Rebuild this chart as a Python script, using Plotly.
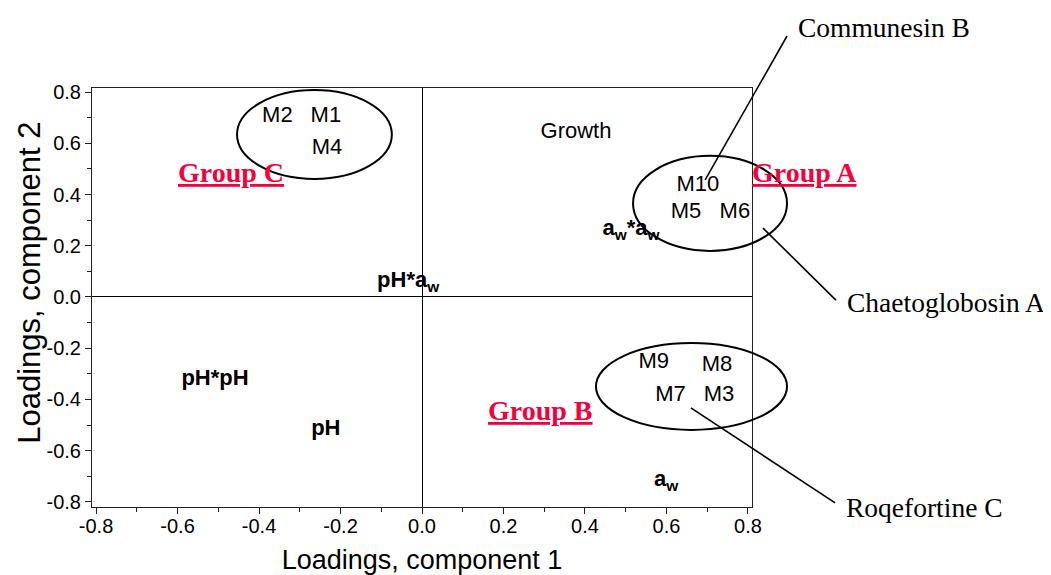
import plotly.graph_objects as go

# ---- data (loadings) ----
obs_labels = ["M2", "M1", "M4", "M10", "M5", "M6", "M9", "M8", "M7", "M3", "Growth"]
obs_x = [-0.355, -0.236, -0.233, 0.677, 0.648, 0.768, 0.569, 0.724, 0.610, 0.729, 0.378]
obs_y = [0.703, 0.703, 0.578, 0.437, 0.328, 0.328, -0.254, -0.266, -0.383, -0.383, 0.644]

var_labels = ["<b>a<sub>w</sub>*a<sub>w</sub></b>", "<b>pH*a<sub>w</sub></b>", "<b>pH*pH</b>", "<b>pH</b>", "<b>a<sub>w</sub></b>"]
var_x = [0.513, -0.034, -0.508, -0.236, 0.599]
var_y = [0.262, 0.059, -0.324, -0.519, -0.718]

group_names = ["Group C", "Group A", "Group B"]
group_x = [-0.470, 0.940, 0.292]
group_y = [0.488, 0.488, -0.445]
# ellipse extents: x0, x1, y0, y1
group_x0 = [-0.454, 0.518, 0.427]
group_x1 = [-0.074, 0.896, 0.896]
group_y0 = [0.461, 0.180, -0.519]
group_y1 = [0.808, 0.551, -0.180]

callout_names = ["Communesin B", "Chaetoglobosin A", "Roqefortine C"]
callout_text_x = [0.918, 1.039, 1.037]
callout_text_y = [1.054, -0.020, -0.820]
callout_from_x = [0.695, 0.837, 0.660]
callout_from_y = [0.457, 0.269, -0.433]
callout_to_x = [0.896, 1.016, 1.014]
callout_to_y = [1.019, -0.012, -0.804]

tick_vals = [-0.8, -0.6, -0.4, -0.2, 0.0, 0.2, 0.4, 0.6, 0.8]
tick_text = ["-0.8", "-0.6", "-0.4", "-0.2", "0.0", "0.2", "0.4", "0.6", "0.8"]

x_title = "Loadings, component 1"
y_title = "Loadings, component 2"

X_RANGE = [-0.81, 0.81]
Y_RANGE = [-0.82, 0.816]

def px(v):
    return (v - X_RANGE[0]) / (X_RANGE[1] - X_RANGE[0])

def py(v):
    return (v - Y_RANGE[0]) / (Y_RANGE[1] - Y_RANGE[0])

SANS = "Liberation Sans, Arial, sans-serif"
SERIF = "Liberation Serif, Times New Roman, serif"
RED = "#f5003d"

fig = go.Figure()
fig.add_trace(go.Scatter(x=obs_x, y=obs_y, text=obs_labels, mode="text",
                         textfont=dict(family=SANS, size=22, color="black"),
                         cliponaxis=False, hoverinfo="skip", showlegend=False))
fig.add_trace(go.Scatter(x=var_x, y=var_y, text=var_labels, mode="text",
                         textfont=dict(family=SANS, size=22, color="black"),
                         cliponaxis=False, hoverinfo="skip", showlegend=False))

shapes = []
for i in range(len(group_names)):
    shapes.append(dict(type="circle", xref="paper", yref="paper",
                       x0=px(group_x0[i]), x1=px(group_x1[i]),
                       y0=py(group_y0[i]), y1=py(group_y1[i]),
                       line=dict(color="black", width=2)))
for i in range(len(callout_names)):
    shapes.append(dict(type="line", xref="paper", yref="paper",
                       x0=px(callout_from_x[i]), y0=py(callout_from_y[i]),
                       x1=px(callout_to_x[i]), y1=py(callout_to_y[i]),
                       line=dict(color="black", width=1.6)))

annotations = []
for i, g in enumerate(group_names):
    annotations.append(dict(x=px(group_x[i]), y=py(group_y[i]), xref="paper", yref="paper",
                            xanchor="center", yanchor="middle",
                            text="<b><u>" + g + "</u></b>", showarrow=False,
                            font=dict(family=SERIF, size=28, color=RED)))
for i, c in enumerate(callout_names):
    annotations.append(dict(x=px(callout_text_x[i]), y=py(callout_text_y[i]),
                            xref="paper", yref="paper",
                            text=c, showarrow=False, xanchor="left", yanchor="middle",
                            font=dict(family=SERIF, size=27.5, color="black")))
# y axis title, placed slightly above the plot's vertical centre as in the original
annotations.append(dict(x=-0.094, y=0.535, xref="paper", yref="paper",
                        xanchor="center", yanchor="middle", textangle=-90,
                        text=y_title, showarrow=False,
                        font=dict(family=SANS, size=31, color="black")))

axis_common = dict(
    tickmode="array", tickvals=tick_vals, ticktext=tick_text,
    showline=True, linecolor="#222", linewidth=1, mirror=True,
    ticks="outside", ticklen=6, tickcolor="#222", tickwidth=1,
    minor=dict(dtick=0.1, tick0=0, ticks="outside", ticklen=4, tickcolor="#222"),
    showgrid=False, zeroline=True, zerolinecolor="black", zerolinewidth=1,
    tickfont=dict(family=SANS, size=20, color="black"),
)

# note: the page body has an 8px default margin, margins compensate for it
fig.update_layout(
    width=1051, height=575,
    margin=dict(l=84, r=307, t=80, b=76),
    paper_bgcolor="white", plot_bgcolor="white",
    shapes=shapes, annotations=annotations,
    xaxis=dict(range=X_RANGE, ticklabelstandoff=-5,
               title=dict(text=x_title,
                          font=dict(family=SANS, size=27, color="black"), standoff=14),
               **axis_common),
    yaxis=dict(range=Y_RANGE, **axis_common),
)

fig.write_html("out.html")
